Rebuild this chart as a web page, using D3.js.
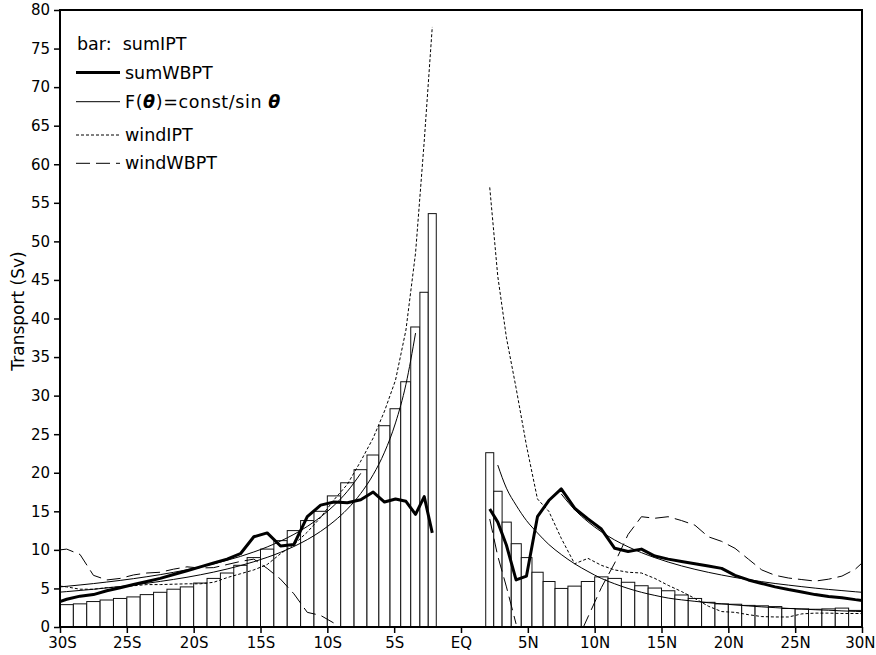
<!DOCTYPE html>
<html><head><meta charset="utf-8">
<script src="https://cdn.jsdelivr.net/npm/d3@7/dist/d3.min.js"></script>
<style>
body{margin:0;background:#fff}
text{font-family:"DejaVu Sans",sans-serif;fill:#000}
</style>
</head><body>
<svg id="chart" width="876" height="655"></svg>
<script>
// ---- latitude grid (bar centres) ----
const barLatS = [-29.5,-28.5,-27.5,-26.5,-25.5,-24.5,-23.5,-22.5,-21.5,-20.5,-19.5,-18.5,-17.5,-16.5,-15.5,-14.5,-13.5,-12.5,-11.5,-10.5,-9.5,-8.5,-7.5,-6.57,-5.72,-4.9,-4.12,-3.4,-2.75,-2.15];
const barLatN = [2.15,2.75,3.4,4.12,4.9,5.72,6.57,7.5,8.5,9.5,10.5,11.5,12.5,13.5,14.5,15.5,16.5,17.5,18.5,19.5,20.5,21.5,22.5,23.5,24.5,25.5,26.5,27.5,28.5,29.5];
// line grids include the frame edge
const lineLatS = [-30].concat(barLatS);
const lineLatN = barLatN.concat([30]);

// ---- bars: sumIPT ----
const sumIPT_S = [2.9,3.0,3.3,3.5,3.7,3.9,4.2,4.5,4.9,5.2,5.7,6.3,7.0,8.0,9.0,10.1,11.2,12.5,13.8,15.0,17.0,18.7,20.4,22.3,26.1,28.3,31.8,38.9,43.4,53.6];
const sumIPT_N = [22.6,17.6,13.6,10.8,9.0,7.1,5.9,5.0,5.3,5.9,6.5,6.3,5.8,5.35,5.05,4.7,4.15,3.7,3.2,3.0,2.95,2.8,2.75,2.65,2.4,2.35,2.3,2.35,2.45,2.15];

// ---- sumWBPT (thick) ----
const sumWBPT_S = [3.3,3.6,4.0,4.2,4.7,5.1,5.5,5.9,6.3,6.8,7.3,7.8,8.3,8.8,9.5,11.7,12.2,10.5,10.7,14.3,15.8,16.2,16.1,16.5,17.5,16.2,16.6,16.3,14.6,16.9,12.2];
const sumWBPT_N = [15.3,13.6,10.6,6.1,6.6,14.3,16.4,17.9,15.4,14.0,12.7,10.2,9.8,10.1,9.2,8.8,8.5,8.2,7.9,7.6,6.7,6.1,5.65,5.2,4.85,4.55,4.2,3.95,3.8,3.55,3.45];

// ---- F(theta)=const/sin(theta) fits (thin solid) ----
const fitBar_S = [4.52,4.59,4.74,4.89,5.07,5.25,5.45,5.67,5.91,6.17,6.45,6.77,7.12,7.52,7.96,8.46,9.03,9.68,10.44,11.33,12.40,13.70,15.29,17.32,19.75,22.67,26.46,31.46,38.11,null,null];
const fitWB_S  = [5.2,5.28,5.45,5.63,5.83,6.04,6.27,6.52,6.79,7.09,7.42,7.79,8.19,8.65,9.15,9.73,10.38,11.14,12.01,13.04,14.27,15.76,17.59,19.92,null,null,null,null,null,null,null];
const fitBar_N = [null,21.0,18.0,15.8,13.8,12.2,10.7,9.4,8.2,7.2,6.3,5.6,5.0,4.5,4.1,3.75,3.52,3.33,3.15,3.0,2.86,2.73,2.61,2.51,2.41,2.32,2.24,2.17,2.09,2.03,2.0];
const fitWB_N  = [null,null,null,null,null,null,null,17.25,15.22,13.64,12.35,11.28,10.4,9.64,8.99,8.42,7.92,7.48,7.09,6.74,6.42,6.14,5.88,5.64,5.43,5.23,5.04,4.87,4.72,4.57,4.5];

// ---- windIPT (short dash) ----
const windIPT_S = [5.3,5.2,4.9,4.9,5.1,5.2,5.35,5.5,5.5,5.55,5.6,5.6,5.8,6.4,6.9,7.4,8.1,9.5,10.7,12.3,14.2,16.5,18.5,21.5,24.5,28.0,32.0,38.5,48.5,63.0,77.8];
const windIPT_N = [57.0,45.5,37.5,31.0,23.5,16.6,15.0,11.5,8.2,8.9,8.0,7.4,7.1,7.0,6.3,5.4,4.6,3.7,2.7,2.0,1.9,1.6,1.35,1.3,1.3,1.7,1.8,1.8,1.75,1.75,1.75];

// ---- windWBPT (long dash) ----
const windWBPT_S = [10.0,10.1,9.4,6.7,6.1,6.3,6.75,7.0,7.1,7.5,7.8,7.65,7.7,8.1,8.5,8.8,7.6,6.2,4.3,1.9,1.5,0.5,null,null,null,null,null,null,null,null,null];
const windWBPT_N = [14.0,9.2,5.2,0.4,null,null,null,null,-2.5,1.3,5.1,8.3,12.0,14.3,14.1,14.3,13.8,13.2,11.7,11.1,10.2,8.8,7.4,6.7,6.35,6.15,5.95,6.2,6.6,7.5,8.3];

// ---- axes ----
const xTicks = [-30,-25,-20,-15,-10,-5,0,5,10,15,20,25,30];
const xTickLabels = ["30S","25S","20S","15S","10S","5S","EQ","5N","10N","15N","20N","25N","30N"];
const yTicks = [0,5,10,15,20,25,30,35,40,45,50,55,60,65,70,75,80];
const yTitle = "Transport (Sv)";

// ---- legend ----
const legendLabels = ["sumWBPT","windIPT","windWBPT"];

const svg = d3.select("#chart");
const L = 60, R = 862, T = 10, B = 627;
const x = d3.scaleLinear().domain([-30,30]).range([L,R]);
const y = d3.scaleLinear().domain([0,80]).range([B,T]);

svg.append("defs").append("clipPath").attr("id","clip")
  .append("rect").attr("x",L).attr("y",T).attr("width",R-L).attr("height",B-T);

// bars
function barEdges(lat){
  const n = lat.length;
  return lat.map((c,i)=>{
    const lo = i===0 ? c-(lat[1]-lat[0])/2 : (lat[i-1]+c)/2;
    const hi = i===n-1 ? c+(c-lat[n-2])/2 : (c+lat[i+1])/2;
    return [lo,hi];
  });
}
const barData = [];
[[barLatS,sumIPT_S],[barLatN,sumIPT_N]].forEach(([lat,v])=>{
  barEdges(lat).forEach((e,i)=>barData.push({lo:e[0],hi:e[1],v:v[i]}));
});
svg.append("g").selectAll("rect").data(barData).join("rect")
  .attr("x",d=>x(d.lo)).attr("width",d=>x(d.hi)-x(d.lo))
  .attr("y",d=>y(d.v)).attr("height",d=>y(0)-y(d.v))
  .attr("fill","#fff").attr("stroke","#111").attr("stroke-width",1);

const gl = svg.append("g").attr("clip-path","url(#clip)");
function draw(lat, vals, style, curve){
  const pts = lat.map((la,i)=>[la, vals[i]]);
  const line = d3.line().defined(d=>d[1]!==null).x(d=>x(d[0])).y(d=>y(d[1]))
    .curve(curve||d3.curveLinear);
  const p = gl.append("path").attr("d",line(pts)).attr("fill","none")
    .attr("stroke","#000").attr("stroke-width",style.w)
    .attr("stroke-linejoin","round");
  if(style.dash) p.attr("stroke-dasharray",style.dash);
}
const sThin = {w:1}, sThick = {w:3}, sDot = {w:1,dash:"3,2"}, sLong = {w:1,dash:"14,6"};
draw(lineLatS, fitBar_S, sThin, d3.curveMonotoneX);
draw(lineLatS, fitWB_S, sThin, d3.curveMonotoneX);
draw(lineLatN, fitBar_N, sThin, d3.curveMonotoneX);
draw(lineLatN, fitWB_N, sThin, d3.curveMonotoneX);
draw(lineLatS, windIPT_S, sDot);
draw(lineLatN, windIPT_N, sDot);
draw(lineLatS, windWBPT_S, sLong);
draw(lineLatN, windWBPT_N, sLong);
draw(lineLatS, sumWBPT_S, sThick);
draw(lineLatN, sumWBPT_N, sThick);

// axes
const xAxis = d3.axisBottom(x).tickValues(xTicks).tickFormat((d,i)=>xTickLabels[i]).tickSize(6).tickPadding(4);
const gx = svg.append("g").attr("transform",`translate(0,${B})`).call(xAxis);
const yAxis = d3.axisLeft(y).tickValues(yTicks).tickSize(6).tickPadding(4);
const gy = svg.append("g").attr("transform",`translate(${L},0)`).call(yAxis);
[gx,gy].forEach(g=>{
  g.select(".domain").remove();
  g.selectAll("line").attr("stroke","#000").attr("stroke-width",1.5);
  g.selectAll("text").style("font-family","DejaVu Sans").style("font-size","15px").attr("fill","#000");
});
gx.selectAll(".tick").filter(d=>d===30).select("text").attr("text-anchor","end").attr("x",13);
gx.selectAll(".tick").filter(d=>d===-30).select("text").attr("dx",2);

svg.append("rect").attr("x",L).attr("y",T).attr("width",R-L).attr("height",B-T)
  .attr("fill","none").attr("stroke","#000").attr("stroke-width",2);

svg.append("text").attr("transform",`translate(24,311) rotate(-90)`)
  .attr("text-anchor","middle").style("font-size","17px").text(yTitle);

// legend
const lg = svg.append("g").style("font-size","17.5px");
lg.append("text").attr("x",77).attr("y",50).attr("xml:space","preserve").text("bar:  sumIPT");
const items = [
  {yy:72.5, st:sThick, label:legendLabels[0]},
  {yy:101.7, st:sThin, label:null},
  {yy:135, st:sDot, label:legendLabels[1]},
  {yy:163.3, st:sLong, label:legendLabels[2]}
];
items.forEach(it=>{
  const ln = lg.append("line").attr("x1",76).attr("x2",120).attr("y1",it.yy).attr("y2",it.yy)
    .attr("stroke","#000").attr("stroke-width",it.st.w);
  if(it.st.dash) ln.attr("stroke-dasharray",it.st.dash);
  const t = lg.append("text").attr("x",125).attr("y",it.yy+6);
  if(it.label) t.text(it.label);
  else {
    t.attr("letter-spacing","0.6px");
    t.append("tspan").text("F(");
    t.append("tspan").style("font-style","italic").style("font-weight","bold").text("θ");
    t.append("tspan").text(")=const/sin ");
    t.append("tspan").style("font-style","italic").style("font-weight","bold").text("θ");
  }
});
</script>
</body></html>
